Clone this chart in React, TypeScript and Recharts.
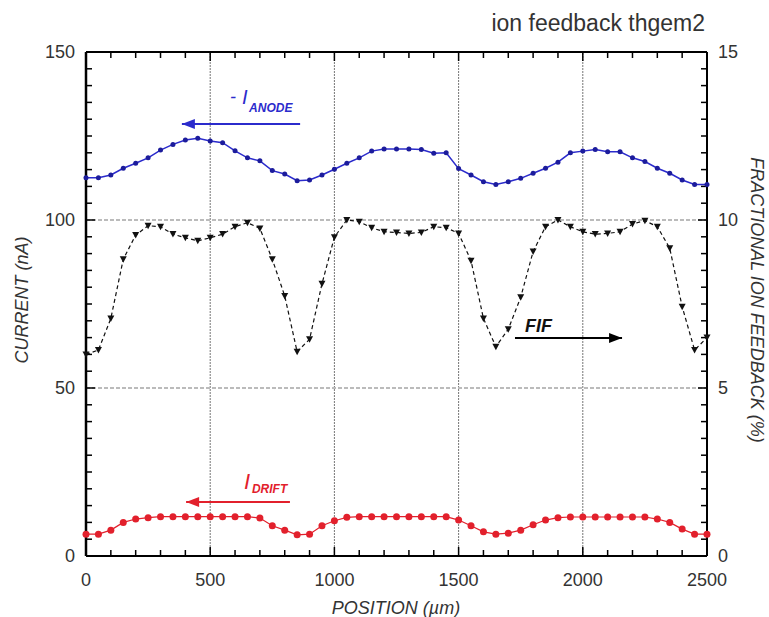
import React from 'react';
import { ComposedChart, Line, XAxis, YAxis, ReferenceLine, Label } from 'recharts';

const FONT = "'Liberation Sans Narrow', 'Liberation Sans', Arial, sans-serif";

// positions along the scan (µm)
const positions = [
  0, 50, 100, 150, 200, 250, 300, 350, 400, 450,
  500, 550, 600, 650, 700, 750, 800, 850, 900, 950,
  1000, 1050, 1100, 1150, 1200, 1250, 1300, 1350, 1400, 1450,
  1500, 1550, 1600, 1650, 1700, 1750, 1800, 1850, 1900, 1950,
  2000, 2050, 2100, 2150, 2200, 2250, 2300, 2350, 2400, 2450, 2500,
];

// -I anode (nA)
const anodeCurrent = [
  112.6, 112.6, 113.4, 115.4, 116.9, 118.5, 120.8, 122.5, 123.8, 124.3,
  123.5, 123.0, 120.6, 118.5, 117.6, 114.7, 113.7, 111.7, 111.9, 113.4,
  115.1, 116.9, 118.5, 120.5, 121.1, 121.1, 121.1, 121.0, 119.9, 120.0,
  115.3, 113.4, 111.4, 110.6, 111.4, 112.4, 113.9, 115.4, 117.2, 120.0,
  120.5, 121.0, 120.3, 120.3, 118.5, 117.4, 115.4, 113.9, 111.9, 110.6, 110.6,
];

// I drift (nA)
const driftCurrent = [
  6.5, 6.5, 7.7, 10.0, 11.0, 11.4, 11.7, 11.7, 11.7, 11.7,
  11.7, 11.7, 11.7, 11.7, 11.3, 9.0, 7.7, 6.3, 6.5, 9.0,
  10.5, 11.5, 11.7, 11.7, 11.7, 11.7, 11.7, 11.7, 11.7, 11.7,
  10.7, 9.0, 7.2, 6.5, 6.8, 7.7, 9.3, 10.7, 11.4, 11.6,
  11.6, 11.6, 11.6, 11.6, 11.6, 11.6, 11.0, 10.0, 8.0, 6.5, 6.5,
];

// fractional ion feedback (%)
const ionFeedback = [
  6.0, 6.13, 7.07, 8.83, 9.55, 9.83, 9.8, 9.58, 9.47, 9.38,
  9.47, 9.58, 9.8, 9.92, 9.75, 8.83, 7.74, 6.08, 6.45, 8.1,
  9.49, 10.0, 9.95, 9.77, 9.65, 9.63, 9.6, 9.63, 9.8, 9.77,
  9.6, 8.79, 7.07, 6.23, 6.75, 7.7, 9.06, 9.8, 10.0, 9.8,
  9.65, 9.58, 9.6, 9.65, 9.88, 9.98, 9.8, 9.16, 7.42, 6.13, 6.5,
];

const xLabels = [0, 500, 1000, 1500, 2000, 2500];
const currentLabels = [0, 50, 100, 150];
const feedbackLabels = [0, 5, 10, 15];

// minor tick positions (inward ticks on the frame)
const steps = (max: number, step: number) => {
  const out: number[] = [];
  for (let v = step; v < max - 1e-9; v += step) out.push(Math.round(v * 100) / 100);
  return out;
};
const xMinor = steps(2500, 100);
const currentMinor = steps(150, 5);

const data = positions.map((p, i) => ({
  position: p,
  anode: anodeCurrent[i],
  drift: driftCurrent[i],
  fif: ionFeedback[i],
}));

const BLUE = '#2b2bcc';
const RED = '#e2202c';
const TEXT = '#333';
const tickStyle = { fill: TEXT, fontSize: 18, fontFamily: FONT };

const TriangleDot = (props: any) => {
  const { cx, cy, index } = props;
  if (cx == null || cy == null) return <g key={index} />;
  return (
    <path
      key={index}
      d={`M${cx - 3.5},${cy - 3} L${cx + 3.5},${cy - 3} L${cx},${cy + 3.5} Z`}
      fill="#111"
    />
  );
};

// arrow drawn along a reference segment, with its annotation text
const arrow = (color: string, headAtStart: boolean, text: (x1: number, x2: number, y: number) => React.ReactNode) =>
  (p: any) => {
    const { x1, y1, x2 } = p;
    const hx = headAtStart ? x1 : x2;
    const dir = headAtStart ? 1 : -1;
    return (
      <g>
        <line x1={x1} y1={y1} x2={x2} y2={y1} stroke={color} strokeWidth={2} />
        <path d={`M${hx},${y1} L${hx + dir * 13},${y1 - 5} L${hx + dir * 13},${y1 + 5} Z`} fill={color} />
        {text(x1, x2, y1)}
      </g>
    );
  };

// inward tick marks on the frame; the reference segment spans (100,10)-(2400,140)
// so its end points give the axis scale for the tick positions
const frameShape = (p: any) => {
  const x1 = Number(p.x1);
  const x2 = Number(p.x2);
  const y1 = Number(p.y1);
  const y2 = Number(p.y2);
  const kx = (x2 - x1) / 2300;
  const ky = (y2 - y1) / 130;
  const left = x1 - 100 * kx;
  const right = left + 2500 * kx;
  const bottom = y1 - 10 * ky;
  const top = bottom + 150 * ky;
  const lines: React.ReactNode[] = [];
  xMinor.forEach((v) => {
    const len = xLabels.includes(v) ? 9 : 6;
    const x = left + v * kx;
    lines.push(<line key={`b${v}`} x1={x} y1={bottom} x2={x} y2={bottom - len} />);
    lines.push(<line key={`t${v}`} x1={x} y1={top} x2={x} y2={top + len} />);
  });
  currentMinor.forEach((v) => {
    const len = currentLabels.includes(v) ? 9 : 6;
    const rlen = feedbackLabels.includes(v / 10) ? 9 : 6;
    const y = bottom + v * ky;
    lines.push(<line key={`l${v}`} x1={left} y1={y} x2={left + len} y2={y} />);
    lines.push(<line key={`r${v}`} x1={right} y1={y} x2={right - rlen} y2={y} />);
  });
  return (
    <g stroke="#000" strokeWidth={1.5}>
      {lines}
    </g>
  );
};

export default function App() {
  return (
    <div style={{ position: 'absolute', left: 0, top: 0, width: 769, height: 617, background: '#fff' }}>
      <ComposedChart width={769} height={617} data={data} margin={{ top: 51, right: 12, bottom: 11, left: 36 }}>
        <XAxis
          dataKey="position"
          type="number"
          domain={[0, 2500]}
          ticks={xLabels}
          interval={0}
          tickSize={0}
          tickMargin={17}
          height={50}
          axisLine={{ stroke: '#000', strokeWidth: 2 }}
          tickLine={false}
          tick={tickStyle}
        >
          <Label
            content={() => (
              <text x={396} y={614} textAnchor="middle" fontStyle="italic" fontSize={18} fill={TEXT} fontFamily={FONT}>
                POSITION (µm)
              </text>
            )}
          />
        </XAxis>
        <XAxis
          xAxisId="top"
          orientation="top"
          type="number"
          domain={[0, 2500]}
          ticks={xLabels}
          height={1}
          axisLine={{ stroke: '#000', strokeWidth: 2 }}
          tickLine={false}
          tick={false}
        >
          <Label
            content={() => (
              <text x={705} y={31} textAnchor="end" fontSize={23} fill={TEXT} fontFamily={FONT}>
                ion feedback thgem2
              </text>
            )}
          />
        </XAxis>
        <YAxis
          yAxisId="left"
          type="number"
          domain={[0, 150]}
          ticks={currentLabels}
          interval={0}
          width={50}
          tickSize={0}
          tickMargin={11}
          allowDataOverflow
          axisLine={{ stroke: '#000', strokeWidth: 2.5 }}
          tickLine={false}
          tick={tickStyle}
        >
          <Label
            content={() => (
              <text
                x={0}
                y={0}
                transform="translate(28,300) rotate(-90)"
                textAnchor="middle"
                fontStyle="italic"
                fontSize={18}
                fill={TEXT}
                fontFamily={FONT}
              >
                CURRENT (nA)
              </text>
            )}
          />
        </YAxis>
        <YAxis
          yAxisId="right"
          orientation="right"
          type="number"
          domain={[0, 15]}
          ticks={feedbackLabels}
          interval={0}
          width={50}
          tickSize={0}
          tickMargin={11}
          allowDataOverflow
          axisLine={{ stroke: '#000', strokeWidth: 2 }}
          tickLine={false}
          tick={tickStyle}
        >
          <Label
            content={() => (
              <text
                x={0}
                y={0}
                transform="translate(751,300) rotate(90)"
                textAnchor="middle"
                fontStyle="italic"
                fontSize={18}
                fill={TEXT}
                fontFamily={FONT}
              >
                FRACTIONAL ION FEEDBACK (%)
              </text>
            )}
          />
        </YAxis>

        {[500, 1000, 1500, 2000].map((x) => (
          <ReferenceLine key={x} x={x} yAxisId="left" stroke="#666" strokeWidth={0.9} strokeDasharray="2 1" />
        ))}
        {[50, 100].map((y) => (
          <ReferenceLine key={y} y={y} yAxisId="left" stroke="#bbb" strokeWidth={2} strokeDasharray="4 2" />
        ))}
        <ReferenceLine
          yAxisId="left"
          segment={[{ x: 100, y: 10 }, { x: 2400, y: 140 }]}
          shape={frameShape}
        />

        <Line
          yAxisId="left"
          dataKey="anode"
          stroke={BLUE}
          strokeWidth={1.5}
          dot={{ r: 2.5, fill: '#1c1c9c', stroke: 'none' }}
          isAnimationActive={false}
        />
        <Line
          yAxisId="left"
          dataKey="drift"
          stroke={RED}
          strokeWidth={1.2}
          dot={{ r: 3.5, fill: RED, stroke: 'none' }}
          isAnimationActive={false}
        />
        <Line
          yAxisId="right"
          dataKey="fif"
          stroke="#111"
          strokeWidth={1.2}
          strokeDasharray="4 3"
          dot={TriangleDot}
          isAnimationActive={false}
        />

        <ReferenceLine
          yAxisId="left"
          segment={[{ x: 386, y: 128.6 }, { x: 862, y: 128.6 }]}
          shape={arrow(BLUE, true, (x1, x2, y) => (
            <g fill={BLUE} fontFamily={FONT} fontStyle="italic">
              <text x={x2 - 70} y={y - 21} fontSize={18}>-</text>
              <text x={x2 - 58} y={y - 20} fontSize={20}>I</text>
              <text x={x2 - 51} y={y - 12} fontSize={12} fontWeight="bold">ANODE</text>
            </g>
          ))}
        />
        <ReferenceLine
          yAxisId="left"
          segment={[{ x: 1727, y: 64.9 }, { x: 2158, y: 64.9 }]}
          shape={arrow('#000', false, (x1, x2, y) => (
            <text x={x1 + 10} y={y - 6} fontSize={18} fontWeight="bold" fontStyle="italic" fill="#111" fontFamily={FONT}>
              FIF
            </text>
          ))}
        />
        <ReferenceLine
          yAxisId="left"
          segment={[{ x: 403, y: 16.1 }, { x: 821, y: 16.1 }]}
          shape={arrow(RED, true, (x1, x2, y) => (
            <g fill={RED} fontFamily={FONT} fontStyle="italic">
              <text x={x2 - 46} y={y - 13} fontSize={22}>I</text>
              <text x={x2 - 38} y={y - 9} fontSize={12} fontWeight="bold">DRIFT</text>
            </g>
          ))}
        />
      </ComposedChart>
    </div>
  );
}
